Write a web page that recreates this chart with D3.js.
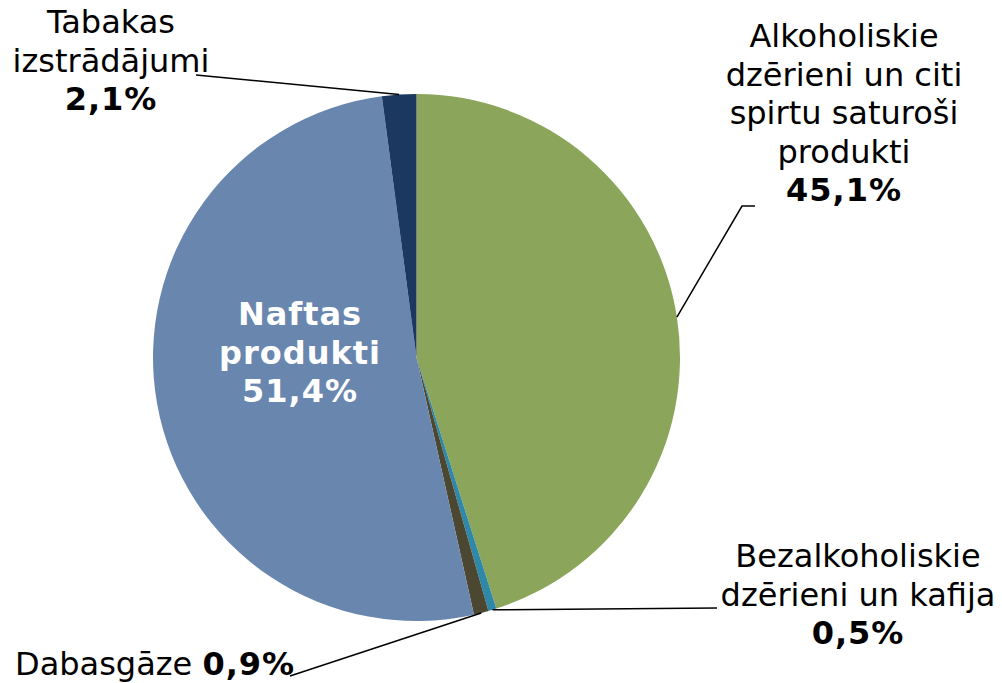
<!DOCTYPE html>
<html>
<head>
<meta charset="utf-8">
<script src="https://cdn.jsdelivr.net/npm/d3@7"></script>
<style>
  body { margin: 0; background: #fff; }
  text { font-family: "DejaVu Sans", Verdana, sans-serif; font-size: 32px; }
  .val { font-weight: bold; letter-spacing: 1px; }
</style>
</head>
<body>
<div id="chart"></div>
<script>
var width = 1002
var height = 683

// data
var categories = ['Alkoholiskie dzērieni un citi spirtu saturoši produkti',
                  'Bezalkoholiskie dzērieni un kafija',
                  'Dabasgāze',
                  'Naftas produkti',
                  'Tabakas izstrādājumi']
var values = [45.1, 0.5, 0.9, 51.4, 2.1]
var colors = ['#8ba55a', '#2f88a8', '#4c4731', '#6986af', '#1b3860']

// label text lines (layout only, positions below)
var labelLines = [
  ['Alkoholiskie', 'dzērieni un citi', 'spirtu saturoši', 'produkti'],
  ['Bezalkoholiskie', 'dzērieni un kafija'],
  ['Dabasgāze'],
  ['Naftas', 'produkti'],
  ['Tabakas', 'izstrādājumi']
]

var cx = 416.5, cy = 357.5, r = 263.5

var svg = d3.select('#chart')
            .append('svg')
            .attr('width', width)
            .attr('height', height)

var pie = d3.pie().sort(null).value(function(d){ return d })
var arcs = pie(values)
var arc = d3.arc().innerRadius(0).outerRadius(r)

var g = svg.append('g').attr('transform', 'translate(' + cx + ',' + cy + ')')

g.selectAll('path')
  .data(arcs)
  .enter().append('path')
  .attr('d', arc)
  .attr('fill', function(d, i){ return colors[i] })

function fmt(v) { return v.toFixed(1).replace('.', ',') + '%' }

function edge(d) {
  var a = (d.startAngle + d.endAngle) / 2
  return [cx + r * Math.sin(a), cy - r * Math.cos(a)]
}

// leader lines: [elbow..., end]
var leaders = [
  [[742, 206], [755, 206]],
  [[717, 608]],
  [[290, 676]],
  null,
  [[196, 75]]
]

leaders.forEach(function(pts, i){
  if (!pts) return
  var p = [edge(arcs[i])].concat(pts)
  svg.append('path')
    .attr('d', d3.line()(p))
    .attr('fill', 'none')
    .attr('stroke', '#000')
    .attr('stroke-width', 1.5)
})

var lh = 38.5

// Alkoholiskie
var t0 = svg.append('text').attr('text-anchor', 'middle')
labelLines[0].forEach(function(s, k){
  t0.append('tspan').attr('x', 844).attr('y', 47 + k * lh).text(s)
})
t0.append('tspan').attr('class', 'val').attr('x', 844).attr('y', 47 + 4 * lh).text(fmt(values[0]))

// Bezalkoholiskie
var t1 = svg.append('text').attr('text-anchor', 'middle')
labelLines[1].forEach(function(s, k){
  t1.append('tspan').attr('x', 858).attr('y', 567 + k * lh).text(s)
})
t1.append('tspan').attr('class', 'val').attr('x', 858).attr('y', 567 + 2 * lh).text(fmt(values[1]))

// Dabasgaze
var t2 = svg.append('text').attr('x', 15).attr('y', 675)
t2.append('tspan').text(labelLines[2][0] + ' ')
t2.append('tspan').attr('class', 'val').text(fmt(values[2]))

// Naftas (inside)
var t3 = svg.append('text').attr('text-anchor', 'middle').attr('fill', '#fff').attr('class', 'val')
labelLines[3].forEach(function(s, k){
  t3.append('tspan').attr('x', 300).attr('y', 325 + k * lh).text(s)
})
t3.append('tspan').attr('x', 300).attr('y', 325 + 2 * lh).text(fmt(values[3]))

// Tabakas
var t4 = svg.append('text').attr('text-anchor', 'middle')
labelLines[4].forEach(function(s, k){
  t4.append('tspan').attr('x', 111).attr('y', 33 + k * lh).text(s)
})
t4.append('tspan').attr('class', 'val').attr('x', 111).attr('y', 33 + 2 * lh).text(fmt(values[4]))
</script>
</body>
</html>
